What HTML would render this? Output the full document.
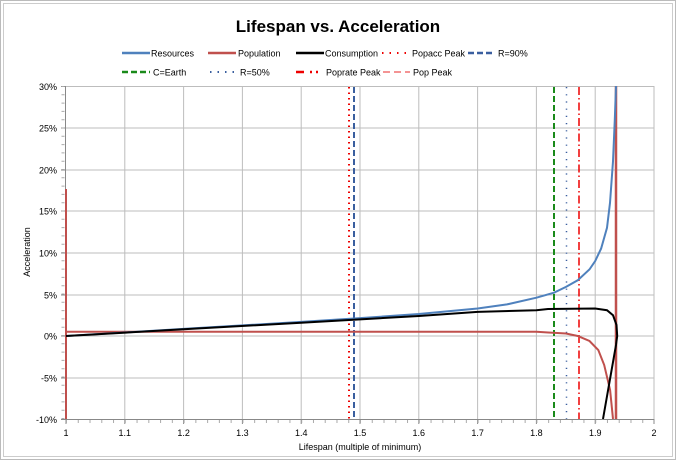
<!DOCTYPE html>
<html><head><meta charset="utf-8"><style>
body{margin:0;background:#fff}
svg{display:block;font-family:"Liberation Sans",sans-serif}
</style></head><body>
<svg width="676" height="460" viewBox="0 0 676 460" xmlns="http://www.w3.org/2000/svg">
<rect x="0.5" y="0.5" width="675" height="459" fill="#fff" stroke="#bbb"/>
<rect x="3.5" y="3.5" width="669" height="453" fill="#fff" stroke="#ccc"/>
<text x="338" y="32" font-size="17" font-weight="bold" text-anchor="middle" fill="#000">Lifespan vs. Acceleration</text>
<g font-size="9" fill="#000">
<line x1="122" y1="53" x2="150" y2="53" stroke="#4f81bd" stroke-width="2.5"/><text x="151" y="56.5">Resources</text>
<line x1="208" y1="53" x2="236" y2="53" stroke="#c0504d" stroke-width="2.5"/><text x="238" y="56.5">Population</text>
<line x1="296" y1="53" x2="324" y2="53" stroke="#000" stroke-width="2.5"/><text x="325" y="56.5">Consumption</text>
<line x1="382" y1="53" x2="408" y2="53" stroke="#e00" stroke-width="2" stroke-dasharray="1.5,6"/><text x="412" y="56.5">Popacc Peak</text>
<line x1="468" y1="53" x2="494" y2="53" stroke="#3a5f9f" stroke-width="2.5" stroke-dasharray="6,3"/><text x="498" y="56.5">R=90%</text>
<line x1="122" y1="72" x2="150" y2="72" stroke="#1a8a1a" stroke-width="2.5" stroke-dasharray="6,3"/><text x="153" y="75.5">C=Earth</text>
<line x1="210" y1="72" x2="236" y2="72" stroke="#3a5f9f" stroke-width="2" stroke-dasharray="1.5,6"/><text x="240" y="75.5">R=50%</text>
<path d="M296 72h8M310 72h2M316 72h2" stroke="#e00" stroke-width="2.5"/><text x="326" y="75.5">Poprate Peak</text>
<line x1="383" y1="72" x2="410" y2="72" stroke="#e55" stroke-width="1.2" stroke-dasharray="7,4"/><text x="413" y="75.5">Pop Peak</text>
</g>
<g stroke="#bdbdbd" stroke-width="1" fill="none">
<path d="M66 86.5H654M66 128H654M66 170H654M66 211H654M66 253H654M66 295H654M66 336H654M66 378H654"/>
<path d="M124.8 86V419M183.6 86V419M242.4 86V419M301.2 86V419M360 86V419M418.8 86V419M477.6 86V419M536.4 86V419M595.2 86V419M654 86V419"/>
</g>
<g stroke="#888" stroke-width="1" fill="none">
<path d="M65.5 86V419.5H654"/>
<path d="M61 86.5h4M61 128h4M61 170h4M61 211h4M61 253h4M61 295h4M61 336h4M61 378h4M61 419.5h4"/>
<path d="M66 419v5M124.8 419v5M183.6 419v5M242.4 419v5M301.2 419v5M360 419v5M418.8 419v5M477.6 419v5M536.4 419v5M595.2 419v5M654 419v5"/>
</g>
<g stroke="#aaa" stroke-width="3" fill="none">
<path d="M63 86V419" stroke-dasharray="1,7.3"/>
<path d="M66 421.5H654" stroke-dasharray="1,10.76" stroke-dashoffset="-11.76"/>
</g>
<g font-size="9" text-anchor="end" fill="#000">
<text x="57" y="90">30%</text><text x="57" y="131.5">25%</text><text x="57" y="173.5">20%</text><text x="57" y="214.5">15%</text><text x="57" y="256.5">10%</text><text x="57" y="298.5">5%</text><text x="57" y="339.5">0%</text><text x="57" y="381.5">-5%</text><text x="57" y="423">-10%</text>
</g>
<g font-size="9" text-anchor="middle" fill="#000">
<text x="66" y="436">1</text><text x="124.8" y="436">1.1</text><text x="183.6" y="436">1.2</text><text x="242.4" y="436">1.3</text><text x="301.2" y="436">1.4</text><text x="360" y="436">1.5</text><text x="418.8" y="436">1.6</text><text x="477.6" y="436">1.7</text><text x="536.4" y="436">1.8</text><text x="595.2" y="436">1.9</text><text x="654" y="436">2</text>
</g>
<text x="360" y="450" font-size="9" text-anchor="middle">Lifespan (multiple of minimum)</text>
<text transform="translate(30,252) rotate(-90)" font-size="9" text-anchor="middle">Acceleration</text>
<line x1="349" y1="87" x2="349" y2="419" stroke="#e00" stroke-width="2" stroke-dasharray="1.5,4"/>
<line x1="354" y1="87" x2="354" y2="419" stroke="#3a5f9f" stroke-width="2" stroke-dasharray="6,3"/>
<line x1="554" y1="87" x2="554" y2="419" stroke="#1a8a1a" stroke-width="2" stroke-dasharray="6,3"/>
<line x1="566.5" y1="87" x2="566.5" y2="419" stroke="#3a5f9f" stroke-width="1.5" stroke-dasharray="1.2,6"/>
<line x1="579" y1="87" x2="579" y2="419" stroke="#e00" stroke-width="1.5" stroke-dasharray="8,3,1.5,3"/>
<line x1="66" y1="189" x2="66" y2="419" stroke="#c0504d" stroke-width="2"/>
<line x1="616" y1="86" x2="616" y2="419" stroke="#c0504d" stroke-width="2.5"/>
<polyline fill="none" stroke="#c0504d" stroke-width="2" points="66,331.8 148,331.8 536.4,331.8 548.2,332.5 566,333.5 577.7,336 589.5,341 598.3,350 604.2,365 610.1,390 613,419"/>
<polyline fill="none" stroke="#4f81bd" stroke-width="2" points="66,336 183.6,328.9 301.2,321.9 360,318.1 418.8,314 477.6,308.5 507,304.4 536.4,297.7 554,292.7 566,286.9 577.7,280.3 589.5,269.4 595.2,261 601.1,248.6 607,227.8 610,202.9 613,161.3 614.8,119.7 616,86"/>
<polyline fill="none" stroke="#000" stroke-width="2" points="66,336 183.6,329.3 301.2,322.7 360,319.4 418.8,316 477.6,311.9 536.4,310.2 548,309 595.2,308.5 607,310.2 613,315.2 616.5,325 617.2,336 616,345 603,419"/>
</svg>
</body></html>
